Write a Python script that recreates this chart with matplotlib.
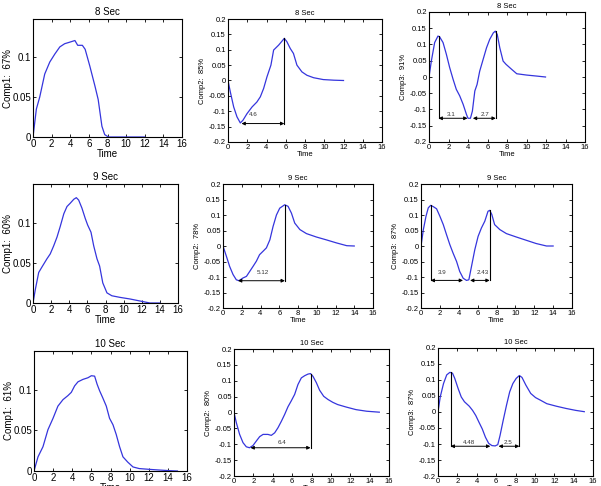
import matplotlib
matplotlib.use('Agg')
import matplotlib.pyplot as plt

plt.rcParams['font.family'] = ['Liberation Sans', 'DejaVu Sans']

# ---- data ----
# Comp1 curves
c1_8_t = [0, 0.36, 0.72, 1.26, 1.8, 2.34, 2.88, 3.4, 3.96, 4.5, 4.8, 5.3, 5.6, 6.1, 6.65, 7.0, 7.4, 7.7, 8.1, 9, 10, 11, 12]
c1_8_v = [0, 0.035, 0.05, 0.079, 0.094, 0.104, 0.113, 0.117, 0.119, 0.121, 0.115, 0.115, 0.11, 0.089, 0.064, 0.047, 0.0135, 0.003, 0, 0, 0, 0, 0]

c1_9_t = [0, 0.26, 0.63, 1.0, 1.54, 1.9, 2.28, 2.65, 3.0, 3.4, 3.75, 4.1, 4.5, 4.78, 5.04, 5.4, 5.77, 6.03, 6.4, 6.7, 7.06, 7.35, 7.7, 8.16, 8.7, 9.6, 10.7, 11.8, 12.9, 14]
c1_9_v = [0, 0.017, 0.038, 0.045, 0.055, 0.061, 0.071, 0.082, 0.095, 0.111, 0.12, 0.124, 0.129, 0.131, 0.128, 0.118, 0.105, 0.097, 0.088, 0.071, 0.055, 0.046, 0.025, 0.0126, 0.009, 0.007, 0.005, 0.0025, 0, 0]

c1_10_t = [0, 0.42, 0.94, 1.46, 1.99, 2.5, 3.03, 3.55, 3.9, 4.25, 4.6, 5.12, 5.64, 6.0, 6.34, 6.6, 6.86, 7.2, 7.56, 7.9, 8.26, 8.6, 8.95, 9.3, 9.8, 10.35, 11.0, 12.1, 13.1, 14.2, 15]
c1_10_v = [0, 0.0175, 0.03, 0.051, 0.065, 0.08, 0.088, 0.093, 0.097, 0.105, 0.11, 0.113, 0.115, 0.1175, 0.117, 0.107, 0.099, 0.09, 0.08, 0.065, 0.057, 0.045, 0.03, 0.0175, 0.011, 0.005, 0.003, 0.002, 0.0012, 0.0004, 0]

# Comp2 curves
c2_8_t = [0, 0.24, 0.59, 0.93, 1.28, 1.56, 1.97, 2.5, 3.0, 3.36, 3.7, 4.05, 4.46, 4.74, 5.26, 5.85, 6.12, 6.47, 6.8, 7.16, 7.68, 8.2, 8.9, 9.9, 11, 12]
c2_8_v = [0, -0.037, -0.086, -0.118, -0.138, -0.129, -0.108, -0.086, -0.07, -0.053, -0.026, 0.012, 0.05, 0.099, 0.115, 0.137, 0.126, 0.104, 0.088, 0.05, 0.028, 0.017, 0.009, 0.003, 0.001, 0]

c2_9_t = [0, 0.36, 0.71, 1.07, 1.42, 1.7, 2.14, 2.5, 2.85, 3.2, 3.56, 3.9, 4.27, 4.63, 5.0, 5.34, 5.7, 6.05, 6.58, 6.94, 7.3, 7.65, 8.2, 8.9, 9.96, 11.0, 12.1, 13.2, 14]
c2_9_v = [0, -0.033, -0.066, -0.092, -0.109, -0.112, -0.103, -0.098, -0.082, -0.066, -0.049, -0.028, -0.017, -0.006, 0.02, 0.063, 0.1, 0.122, 0.133, 0.128, 0.106, 0.074, 0.053, 0.04, 0.029, 0.02, 0.01, 0.001, 0]

c2_10_t = [0, 0.24, 0.58, 0.93, 1.27, 1.6, 1.96, 2.3, 2.65, 3.0, 3.5, 3.85, 4.2, 4.54, 4.9, 5.23, 5.57, 5.9, 6.26, 6.6, 6.95, 7.3, 7.64, 7.9, 8.15, 8.5, 8.84, 9.26, 9.7, 10.2, 10.7, 11.6, 12.6, 13.7, 15]
c2_10_v = [0, -0.032, -0.069, -0.095, -0.108, -0.111, -0.104, -0.09, -0.076, -0.069, -0.069, -0.072, -0.064, -0.048, -0.027, -0.006, 0.018, 0.036, 0.057, 0.088, 0.109, 0.116, 0.121, 0.1225, 0.114, 0.094, 0.07, 0.051, 0.041, 0.032, 0.025, 0.017, 0.009, 0.004, 0.001]

# Comp3 curves
c3_8_t = [0, 0.24, 0.58, 0.92, 1.1, 1.44, 1.78, 2.12, 2.47, 2.8, 3.15, 3.5, 3.84, 4.0, 4.25, 4.45, 4.7, 4.93, 5.2, 5.55, 5.9, 6.23, 6.6, 6.8, 7.0, 7.26, 7.6, 7.9, 8.46, 9.0, 10, 11, 11.95]
c3_8_v = [0, 0.049, 0.106, 0.126, 0.123, 0.106, 0.07, 0.029, -0.007, -0.038, -0.058, -0.084, -0.115, -0.127, -0.127, -0.105, -0.043, -0.023, 0.018, 0.054, 0.09, 0.116, 0.136, 0.141, 0.131, 0.09, 0.049, 0.039, 0.024, 0.01, 0.006, 0.003, 0]

c3_9_t = [0, 0.25, 0.53, 0.77, 1.02, 1.3, 1.65, 2.0, 2.36, 2.7, 3.06, 3.4, 3.77, 4.1, 4.47, 4.82, 5.07, 5.35, 5.7, 6.05, 6.4, 6.76, 7.1, 7.28, 7.5, 7.8, 8.35, 9.05, 10.1, 11.2, 12.2, 13.3, 14]
c3_9_v = [0, 0.053, 0.096, 0.123, 0.131, 0.127, 0.12, 0.096, 0.069, 0.037, 0.004, -0.023, -0.05, -0.082, -0.104, -0.111, -0.109, -0.066, -0.012, 0.031, 0.058, 0.08, 0.112, 0.115, 0.102, 0.069, 0.053, 0.04, 0.029, 0.018, 0.008, 0, 0]

c3_10_t = [0, 0.23, 0.57, 0.9, 1.23, 1.5, 1.73, 2.07, 2.4, 2.73, 3.23, 3.57, 3.9, 4.23, 4.57, 4.9, 5.23, 5.57, 5.9, 6.17, 6.4, 6.73, 7.07, 7.4, 7.73, 8.07, 8.4, 8.67, 9.07, 9.57, 10.07, 10.57, 11.23, 12.23, 13.23, 14.23, 15.1]
c3_10_v = [0, 0.047, 0.089, 0.116, 0.124, 0.121, 0.105, 0.074, 0.047, 0.032, 0.018, 0.005, -0.011, -0.032, -0.053, -0.079, -0.098, -0.105, -0.106, -0.102, -0.074, -0.026, 0.021, 0.063, 0.089, 0.105, 0.114, 0.108, 0.084, 0.058, 0.045, 0.037, 0.026, 0.018, 0.011, 0.005, 0.001]

titles = ['8 Sec', '9 Sec', '10 Sec']
comp1_labels = ['Comp1:  67%', 'Comp1:  60%', 'Comp1:  61%']
comp2_labels = ['Comp2:  85%', 'Comp2:  78%', 'Comp2:  80%']
comp3_labels = ['Comp3:  91%', 'Comp3:  87%', 'Comp3:  87%']

# interval annotations: (peak x, peak y, arrow start x, arrow end x, arrow y, text, text x, text y)
comp2_marks = [
    [(5.85, 0.137, 1.4, 5.85, -0.14, '4.6', 2.6, -0.111)],
    [(6.6, 0.133, 1.6, 6.6, -0.112, '5.12', 4.2, -0.087)],
    [(7.9, 0.1225, 1.7, 7.9, -0.111, '6.4', 4.95, -0.093)],
]
comp3_marks = [
    [(0.98, 0.126, 0.98, 3.95, -0.127, '3.1', 2.3, -0.115),
     (6.85, 0.141, 4.5, 6.85, -0.127, '2.7', 5.7, -0.115)],
    [(1.02, 0.131, 1.02, 4.45, -0.111, '3.9', 2.2, -0.085),
     (7.28, 0.115, 5.2, 7.28, -0.111, '2.43', 6.5, -0.085)],
    [(1.3, 0.124, 1.3, 5.4, -0.107, '4.48', 3.2, -0.095),
     (8.4, 0.114, 6.25, 8.4, -0.107, '2.5', 7.2, -0.095)],
]

comp1 = [(c1_8_t, c1_8_v), (c1_9_t, c1_9_v), (c1_10_t, c1_10_v)]
comp2 = [(c2_8_t, c2_8_v), (c2_9_t, c2_9_v), (c2_10_t, c2_10_v)]
comp3 = [(c3_8_t, c3_8_v), (c3_9_t, c3_9_v), (c3_10_t, c3_10_v)]

# axes boxes in pixels: left, top, right, bottom
boxes1 = [(33, 19, 182, 137), (33, 184, 178, 303), (34, 351, 187, 471)]
boxes2 = [(228, 19, 382, 142), (223, 184, 373, 308), (234, 349, 389, 476)]
boxes3 = [(429, 12, 585, 142), (421, 184, 572, 308), (438, 348, 593, 476)]

W, H = 601, 486
LINE = '#3535dd'

fig = plt.figure(figsize=(W / 100, H / 100), dpi=100)


def make_axes(box):
    l, t, r, b = box
    return fig.add_axes([l / W, 1 - b / H, (r - l) / W, (b - t) / H])


def style(ax, fs):
    ax.tick_params(direction='in', top=True, right=True, length=2.5, width=0.6,
                   labelsize=fs, pad=1.5)
    for s in ax.spines.values():
        s.set_linewidth(0.8)
    ax.set_xlim(0, 16)
    ax.set_xticks(range(0, 17, 2))


def fmt(v):
    if abs(v) < 1e-9:
        return '0'
    return ('%.2f' % v).rstrip('0')


# left column
for i in range(3):
    l, t_, r, b = boxes1[i]
    ax = make_axes(boxes1[i])
    t, v = comp1[i]
    ax.plot(t, v, color=LINE, lw=0.9)
    style(ax, 7)
    ax.set_ylim(0, 0.148)
    yt = [0, 0.05, 0.1]
    ax.set_yticks(yt)
    ax.set_yticklabels([fmt(y) for y in yt])
    ax.set_title(titles[i], fontsize=7, pad=3)
    ax.set_xlabel('Time', fontsize=7, labelpad=0)
    ax.set_ylabel(comp1_labels[i], fontsize=7)
    # right edge of the rotated label about 20 px left of the axes
    ax.yaxis.set_label_coords(-20 / (r - l), 0.5)


def draw_marks(ax, marks):
    for px, py, x1, x2, ay, txt, tx, ty in marks:
        ax.plot([px, px], [py, ay], color='k', lw=0.8)
        ax.annotate('', xy=(x2, ay), xytext=(x1, ay),
                    arrowprops=dict(arrowstyle='<|-|>', color='k', lw=0.7,
                                    mutation_scale=5, shrinkA=0, shrinkB=0))
        ax.text(tx, ty, txt, fontsize=4.5, color='#333333', ha='center', va='center')


for col, data, labels, boxes, marks in [(1, comp2, comp2_labels, boxes2, comp2_marks),
                                        (2, comp3, comp3_labels, boxes3, comp3_marks)]:
    for i in range(3):
        ax = make_axes(boxes[i])
        t, v = data[i]
        ax.plot(t, v, color=LINE, lw=0.9)
        style(ax, 5.5)
        ax.set_ylim(-0.2, 0.2)
        yt = [-0.2, -0.15, -0.1, -0.05, 0, 0.05, 0.1, 0.15, 0.2]
        ax.set_yticks(yt)
        ax.set_yticklabels([fmt(y) for y in yt])
        ax.set_title(titles[i], fontsize=5.5, pad=3)
        ax.set_xlabel('Time', fontsize=5.5, labelpad=0)
        ax.set_ylabel(labels[i], fontsize=5.5, labelpad=2)
        draw_marks(ax, marks[i])

fig.savefig('out.png', dpi=100)
